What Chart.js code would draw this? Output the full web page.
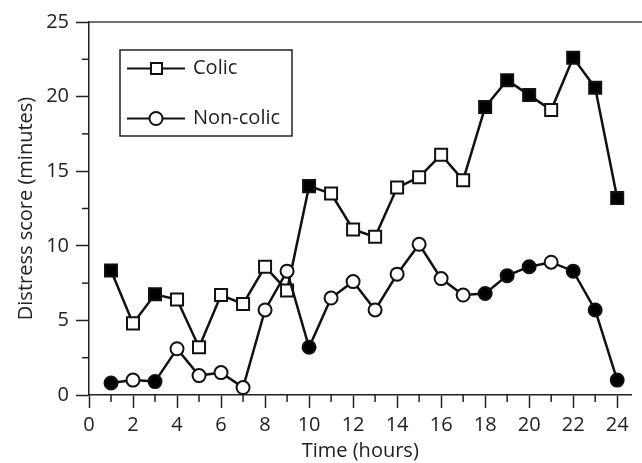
<!DOCTYPE html>
<html>
<head>
<meta charset="utf-8">
<script src="https://cdn.jsdelivr.net/npm/chart.js@4.4.1/dist/chart.umd.min.js"></script>
<style>
html,body{margin:0;padding:0;background:#fff;}
#wrap{width:642px;height:463px;position:relative;}
</style>
</head>
<body>
<div id="wrap"><canvas id="c" width="642" height="463"></canvas></div>
<script>
const hours = [1,2,3,4,5,6,7,8,9,10,11,12,13,14,15,16,17,18,19,20,21,22,23,24];
const colic = [8.35,4.8,6.75,6.4,3.2,6.7,6.1,8.6,7.0,14.0,13.5,11.1,10.6,13.9,14.6,16.1,14.4,19.3,21.1,20.1,19.1,22.6,20.6,13.2];
const noncolic = [0.8,1.0,0.9,3.1,1.3,1.5,0.5,5.7,8.3,3.2,6.5,7.6,5.7,8.1,10.1,7.8,6.7,6.8,8.0,8.6,8.9,8.3,5.7,1.0];
const significant = [1,0,1,0,0,0,0,0,0,1,0,0,0,0,0,0,0,1,1,1,0,1,1,1];
const xTicks = [0,2,4,6,8,10,12,14,16,18,20,22,24];
const yTicks = [0,5,10,15,20,25];
const seriesNames = ['Colic','Non-colic'];

const FONT = "'Open Sans', sans-serif";
const fills = significant.map(s => s ? '#000' : '#fff');

const decor = {
  id: 'decor',
  afterDraw(chart) {
    const ctx = chart.ctx, a = chart.chartArea;
    const xs = chart.scales.x, ys = chart.scales.y;
    ctx.save();
    // top border
    ctx.strokeStyle = '#444'; ctx.lineWidth = 1.5;
    ctx.beginPath(); ctx.moveTo(a.left, a.top); ctx.lineTo(chart.width, a.top); ctx.stroke();
    // minor ticks
    ctx.lineWidth = 1.5; ctx.strokeStyle = '#222';
    for (let v = 1; v < 25; v += 2) {
      const px = xs.getPixelForValue(v);
      ctx.beginPath(); ctx.moveTo(px, a.bottom); ctx.lineTo(px, a.bottom + 7); ctx.stroke();
    }
    for (let v = 2.5; v < 25; v += 5) {
      const py = ys.getPixelForValue(v);
      ctx.beginPath(); ctx.moveTo(a.left, py); ctx.lineTo(a.left - 7, py); ctx.stroke();
    }
    // legend
    const bx = 120, by = 50, bw = 172, bh = 86;
    ctx.strokeStyle = '#222'; ctx.lineWidth = 1.5;
    ctx.strokeRect(bx, by, bw, bh);
    const rows = [68.5, 118.5];
    rows.forEach((ry, i) => {
      ctx.strokeStyle = '#111'; ctx.lineWidth = 2;
      ctx.beginPath(); ctx.moveTo(127, ry); ctx.lineTo(185, ry); ctx.stroke();
      ctx.fillStyle = '#fff';
      ctx.beginPath();
      if (i === 0) { ctx.rect(151, ry - 5.5, 11, 11); }
      else { ctx.arc(156, ry, 6.5, 0, Math.PI * 2); }
      ctx.fill(); ctx.stroke();
      ctx.fillStyle = '#222';
      ctx.font = "20px " + FONT;
      ctx.textBaseline = 'middle';
      ctx.textAlign = 'left';
      ctx.fillText(seriesNames[i], 193, ry);
    });
    ctx.restore();
  }
};

new Chart(document.getElementById('c'), {
  type: 'line',
  data: {
    datasets: [
      {
        label: seriesNames[0],
        data: hours.map((h, i) => ({x: h, y: colic[i]})),
        borderColor: '#111', borderWidth: 2.5,
        pointStyle: 'rect', pointRadius: 8.5, pointBorderWidth: 2,
        pointBackgroundColor: fills, pointBorderColor: '#111',
        tension: 0, order: 2
      },
      {
        label: seriesNames[1],
        data: hours.map((h, i) => ({x: h, y: noncolic[i]})),
        borderColor: '#111', borderWidth: 2.5,
        pointStyle: 'circle', pointRadius: 6.5, pointBorderWidth: 2,
        pointBackgroundColor: fills, pointBorderColor: '#111',
        tension: 0, order: 1
      }
    ]
  },
  options: {
    responsive: false,
    animation: false,
    devicePixelRatio: 1,
    layout: { padding: { top: 22, right: 0, left: 0, bottom: 0 } },
    plugins: { legend: { display: false }, tooltip: { enabled: false } },
    scales: {
      x: {
        type: 'linear', min: 0, max: 24.65,
        afterFit(s) { s.height = 68; },
        afterBuildTicks(s) { s.ticks = xTicks.map(v => ({value: v})); },
        ticks: { color: '#222', font: { family: FONT, size: 20 }, padding: 5, maxRotation: 0, autoSkip: false },
        grid: { drawOnChartArea: false, drawTicks: true, tickLength: 13, tickColor: '#222', tickWidth: 1.5 },
        border: { display: true, color: '#222', width: 1.5 },
        title: { display: true, text: 'Time (hours)', color: '#222', font: { family: FONT, size: 20 }, padding: { top: 0, bottom: 0 } }
      },
      y: {
        type: 'linear', min: 0, max: 25,
        afterFit(s) { s.width = 89; },
        afterBuildTicks(s) { s.ticks = yTicks.map(v => ({value: v})); },
        ticks: { color: '#222', font: { family: FONT, size: 20 }, padding: 7 },
        grid: { drawOnChartArea: false, drawTicks: true, tickLength: 13, tickColor: '#222', tickWidth: 1.5 },
        border: { display: true, color: '#222', width: 1.5 },
        title: { display: true, text: 'Distress score (minutes)', color: '#222', font: { family: FONT, size: 20 }, padding: { top: 14, bottom: 0 } }
      }
    }
  },
  plugins: [decor]
});
</script>
</body>
</html>
